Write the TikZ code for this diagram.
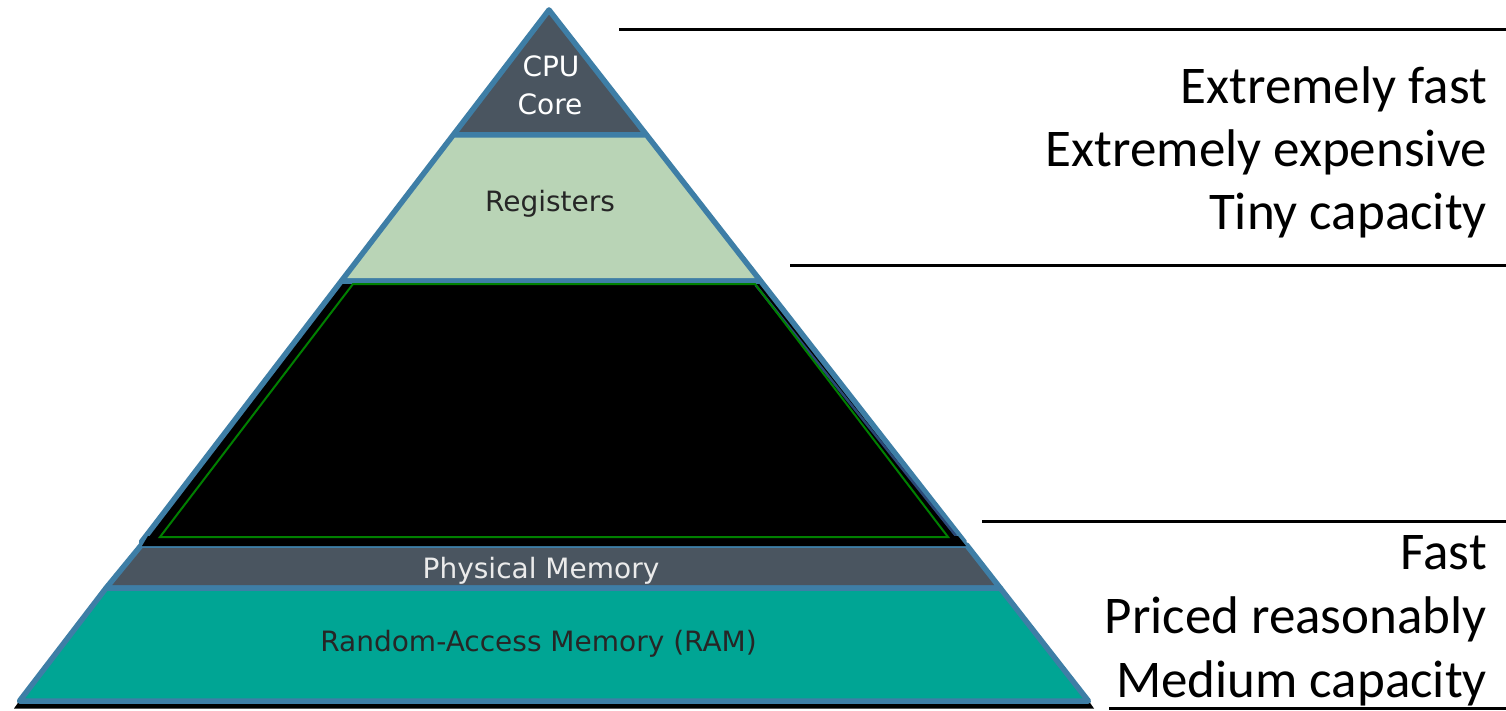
\documentclass[tikz,border=0pt]{standalone}
\usepackage{fontspec}
\setmainfont{Carlito}
\newfontfamily\pyrfont{DejaVu Sans}
\definecolor{slate}{RGB}{74,85,96}
\definecolor{reggreen}{RGB}{185,212,182}
\definecolor{ramteal}{RGB}{0,165,148}
\definecolor{edgeblue}{RGB}{62,126,166}
\definecolor{deepblue}{RGB}{42,72,118}
\definecolor{outlinegreen}{RGB}{0,128,0}
\tikzset{
  band/.style={draw=edgeblue, line width=5.5pt, line join=round},
  layerlabel/.style={font=\pyrfont\fontsize{28}{34}\selectfont, inner sep=0pt, anchor=base},
  sidenote/.style={font=\fontsize{53}{63}\selectfont, inner sep=0pt, anchor=base east},
  rule/.style={line width=3pt, black}
}
\begin{document}
\begin{tikzpicture}[x=1pt, y=-1pt]
\useasboundingbox[fill=white] (0,0) rectangle (1506,711);

% base shadow strip
\fill[black] (20,700) -- (1088,700) -- (1094,708.5) -- (14,708.5) -- cycle;

% pyramid layers, top to bottom
\path[band, fill=slate] (549,10) -- (646.6,135) -- (453.2,135) -- cycle;
\path[band, fill=reggreen] (453.2,135) -- (646.6,135) -- (760.6,281) -- (341.4,281) -- cycle;
\path[band, fill=black] (341.4,281) -- (760.6,281) -- (964.3,542) -- (141.4,542) -- cycle;
\draw[deepblue, line width=2.5pt] (755.5,285) -- (956,536);
\path[band, fill=slate] (141.4,545) -- (966.6,545) -- (1000.2,588) -- (106.1,588) -- cycle;
\path[band, fill=ramteal] (106.1,588) -- (1000.2,588) -- (1088.4,701) -- (19.5,701) -- cycle;

% dark seam between the cache block and physical memory
\fill[black] (148,536) -- (958,536) -- (966,546) -- (142,546) -- cycle;

% inner outline of the cache block
\draw[outlinegreen, line width=2pt, line join=miter] (353,284) -- (755,284) -- (948,537) -- (160,537) -- cycle;

% layer labels
\node[layerlabel, text=white] (cpu) at (551,77) {CPU};
\node[layerlabel, text=white] (core) at (550,115) {Core};
\node[layerlabel, text=black!85] (reg) at (550,212) {Registers};
\node[layerlabel, text=white!92!black] (phys) at (541,578) {Physical Memory};
\node[layerlabel, text=black!85] (ram) at (538.5,651) {Random-Access Memory (RAM)};

% divider rules on the right
\coordinate (r1a) at (619,30);  \coordinate (r1b) at (1506,30);
\coordinate (r2a) at (790,265); \coordinate (r2b) at (1506,265);
\coordinate (r3a) at (982,521); \coordinate (r3b) at (1506,521);
\coordinate (r4a) at (1109,708); \coordinate (r4b) at (1506,708);
\draw[rule] (r1a) -- (r1b);
\draw[rule] (r2a) -- (r2b);
\draw[rule] (r3a) -- (r3b);
\draw[rule] (r4a) -- (r4b);

% descriptions
\node[sidenote] (t1) at (1487,104) {Extremely fast};
\node[sidenote] (t2) at (1487,167) {Extremely expensive};
\node[sidenote] (t3) at (1487,230) {Tiny capacity};
\node[sidenote] (b1) at (1487,569) {Fast};
\node[sidenote] (b2) at (1487,633) {Priced reasonably};
\node[sidenote] (b3) at (1487,697) {Medium capacity};
\end{tikzpicture}
\end{document}
